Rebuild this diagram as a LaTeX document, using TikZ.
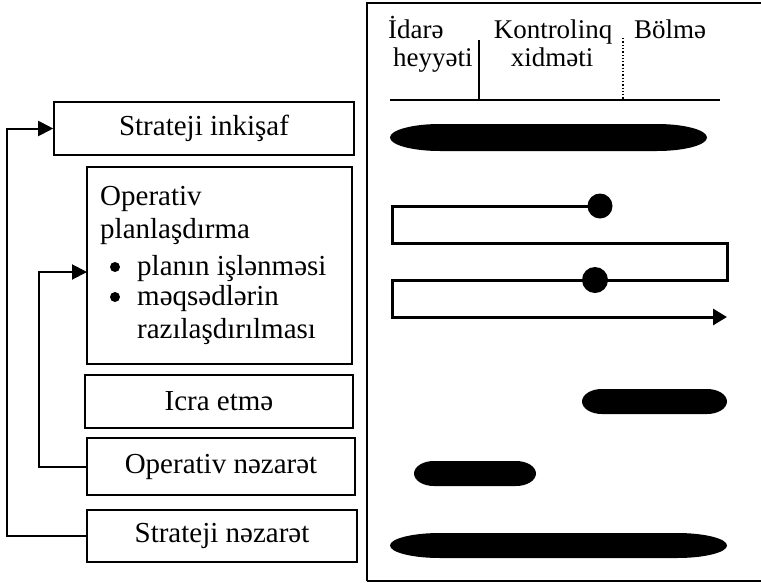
\documentclass[tikz,border=0pt]{standalone}
\usepackage{fontspec}
\setmainfont{Liberation Serif}
\usetikzlibrary{arrows.meta}

% filled bar with elliptical ends: x0, x1, centre y, half height, end radius
\newcommand\capsulebar[5]{%
  \fill (#1+#5,#3-#4) -- (#2-#5,#3-#4)
    arc[start angle=-90,end angle=90,x radius=#5,y radius=#4]
    -- (#1+#5,#3+#4)
    arc[start angle=90,end angle=270,x radius=#5,y radius=#4] -- cycle;}

\tikzset{
  stage/.style={draw,line width=1.6pt,inner sep=0pt,font=\fontsize{29}{33}\selectfont},
  txt/.style={inner sep=0pt,font=\fontsize{29}{33}\selectfont},
  head/.style={inner sep=0pt,font=\fontsize{27}{30}\selectfont},
  dot/.style={circle,fill,inner sep=0pt,minimum size=10pt},
  feedback/.style={line width=2pt,-{Triangle[length=15pt,width=15pt]}},
  flow/.style={line width=3pt,line join=miter,-{Triangle[length=14pt,width=16pt]}},
}

\begin{document}
\begin{tikzpicture}[x=1pt,y=-1pt]
\useasboundingbox (0,0) rectangle (761,582);
\clip (0,0) rectangle (761,582);

% left column of stages
\node[stage,minimum width=300pt,minimum height=53pt] (si) at (204,128.5) {Strateji inkişaf};
\node[stage,minimum width=265pt,minimum height=197pt] (plan) at (219.5,265.5) {};
\node[stage,minimum width=268pt,minimum height=53pt] (icra) at (219,401.5) {Icra etmə};
\node[stage,minimum width=268pt,minimum height=57pt] (on) at (221,466.5) {Operativ nəzarət};
\node[stage,minimum width=270pt,minimum height=52pt] (sn) at (222,536) {Strateji nəzarət};

% contents of the planning box
\node[txt,anchor=base west] (p1) at (100,205) {Operativ};
\node[txt,anchor=base west] (p2) at (100,238) {planlaşdırma};
\node[dot] (b1) at (115,267) {};
\node[txt,anchor=base west] (p3) at (137,275) {planın işlənməsi};
\node[dot] (b2) at (115,297) {};
\node[txt,anchor=base west] (p4) at (137,305) {məqsədlərin};
\node[txt,anchor=base west] (p5) at (137,338) {razılaşdırılması};

% feedback loops
\coordinate (outer) at (7,0);
\coordinate (inner) at (39,0);
\coordinate (planin) at (87,272);
\draw[feedback] (sn.west) -- (sn.west -| outer) -- (si.west -| outer) -- (si.west);
\draw[feedback] (on.west) -- (on.west -| inner) -- (planin -| inner) -- (planin);

% right panel
\draw[line width=1.5pt] (367,581) -- (367,3) -- (770,3) (367,581) -- (770,581);

% column headings
\node[head,anchor=base west] (h1) at (388,38) {İdarə};
\node[head,anchor=base west] (h2) at (393,66) {heyyəti};
\node[head,anchor=base] (h3) at (553,38) {Kontrolinq};
\node[head,anchor=base] (h4) at (552,66) {xidməti};
\node[head,anchor=base] (h5) at (670,38) {Bölmə};
\draw[line width=1.6pt] (390,100) -- (720,100);
\draw[line width=1.6pt] (479,40) -- (479,101);
\draw[line width=1.3pt,dotted] (623,38) -- (623,100);

% activity bars
\capsulebar{390}{707}{137.5}{13.5}{50}
\capsulebar{582}{727}{401.5}{12.5}{20}
\capsulebar{414}{536}{473.5}{12.5}{20}
\capsulebar{390}{727}{545.5}{12.5}{50}

% planning cycle
\coordinate (d1) at (600,206);
\coordinate (d2) at (595,280);
\draw[flow] (d1) -- (392,206) -- (392,243) -- (727,243) -- (727,280) -- (392,280) -- (392,317) -- (727,317);
\fill (d1) circle[radius=12.5];
\fill (d2) circle[radius=13];
\end{tikzpicture}
\end{document}
